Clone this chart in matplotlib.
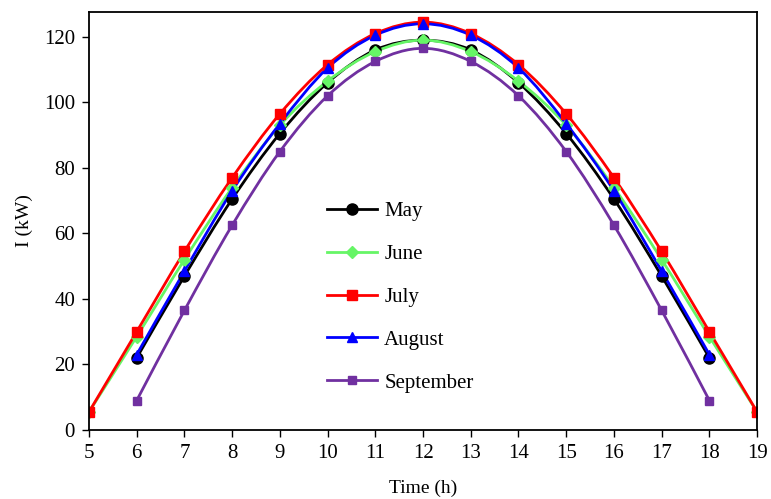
import numpy as np
import matplotlib
matplotlib.use("Agg")
import matplotlib.pyplot as plt
from matplotlib.path import Path
from matplotlib.patches import PathPatch
from matplotlib.lines import Line2D

plt.rcParams['font.family'] = ['Liberation Serif', 'DejaVu Serif']

hours_long = [5, 6, 7, 8, 9, 10, 11, 12, 13, 14, 15, 16, 17, 18, 19]
hours_short = [6, 7, 8, 9, 10, 11, 12, 13, 14, 15, 16, 17, 18]

may = [22, 47, 70.5, 90.5, 106, 116, 119, 116, 106, 90.5, 70.5, 47, 22]
june = [5.5, 28.5, 52, 74, 93, 106.5, 115.5, 119, 115.5, 106.5, 93, 74, 52, 28.5, 5.5]
july = [5.5, 30, 54.5, 77, 96.5, 111.5, 121, 124.5, 121, 111.5, 96.5, 77, 54.5, 30, 5.5]
august = [23, 48.5, 73, 93.5, 110.5, 120.5, 124, 120.5, 110.5, 93.5, 73, 48.5, 23]
september = [9, 36.5, 62.5, 85, 102, 112.5, 116.5, 112.5, 102, 85, 62.5, 36.5, 9]


def smooth_path(x, y):
    # Excel-style smoothed line: Catmull-Rom segments as cubic Bezier
    x = np.asarray(x, float)
    y = np.asarray(y, float)
    verts = [(x[0], y[0])]
    codes = [Path.MOVETO]
    n = len(x)
    for i in range(n - 1):
        x0, y0 = (x[i - 1], y[i - 1]) if i > 0 else (x[i], y[i])
        x3, y3 = (x[i + 2], y[i + 2]) if i + 2 < n else (x[i + 1], y[i + 1])
        c1 = (x[i] + (x[i + 1] - x0) / 6, y[i] + (y[i + 1] - y0) / 6)
        c2 = (x[i + 1] - (x3 - x[i]) / 6, y[i + 1] - (y3 - y[i]) / 6)
        verts += [c1, c2, (x[i + 1], y[i + 1])]
        codes += [Path.CURVE4] * 3
    return Path(verts, codes)


fig = plt.figure(figsize=(7.71, 4.99), dpi=100)
ax = fig.add_axes([0.1154, 0.1383, 0.8666, 0.8377])

series = [
    ("May", hours_short, may, "black", "o", 8),
    ("June", hours_long, june, "#66f566", "D", 6),
    ("July", hours_long, july, "#ff0000", "s", 7),
    ("August", hours_short, august, "#0000ff", "^", 7),
    ("September", hours_short, september, "#7030a0", "s", 6),
]

handles = []
for name, xs, ys, col, mk, ms in series:
    ax.add_patch(PathPatch(smooth_path(xs, ys), facecolor="none", edgecolor=col, lw=2))
    ax.plot(xs, ys, linestyle="none", marker=mk, color=col, markersize=ms)
    handles.append(Line2D([], [], color=col, lw=2, marker=mk, markersize=ms))

ax.set_xlim(5, 19)
ax.set_ylim(0, 127.6)
ax.set_xticks(range(5, 20))
ax.set_yticks(range(0, 121, 20))
ax.tick_params(direction="out", labelsize=15, width=1, length=5, pad=5)
for s in ax.spines.values():
    s.set_linewidth(1.3)
ax.set_xlabel("Time (h)", fontsize=14, labelpad=12)
ax.set_ylabel("I (kW)", fontsize=14, labelpad=8)

ax.legend(handles, [s[0] for s in series], frameon=False, fontsize=15,
          handlelength=2.4, labelspacing=1.12, handletextpad=0.35,
          loc="center left", bbox_to_anchor=(0.328, 0.318))

fig.savefig("out.png", dpi=100)
